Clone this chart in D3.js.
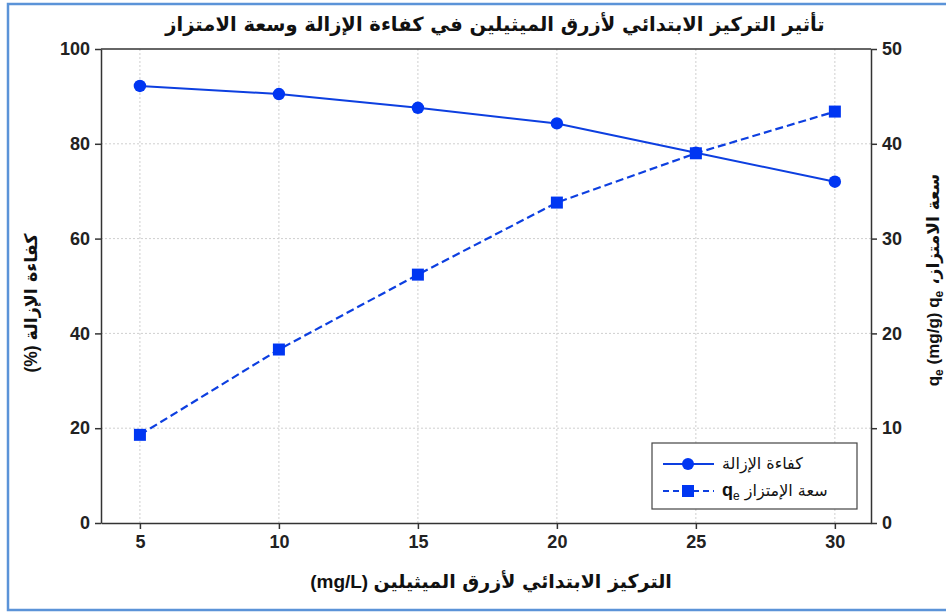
<!DOCTYPE html>
<html>
<head>
<meta charset="utf-8">
<script src="https://cdn.jsdelivr.net/npm/d3@7"></script>
<style>
  body { margin: 0; background: #fff; }
  #chart { width: 946px; height: 612px; }
</style>
</head>
<body>
<div id="chart"></div>
<script>
// data
const concentrations = [5, 10, 15, 20, 25, 30]
const removalEfficiency = [92.2, 90.5, 87.6, 84.3, 78.1, 72.0]   // %
const adsorptionCapacity = [9.3, 18.3, 26.2, 33.8, 39.0, 43.4]  // mg/g

const xTicks = [5, 10, 15, 20, 25, 30]
const leftTicks = [0, 20, 40, 60, 80, 100]
const rightTicks = [0, 10, 20, 30, 40, 50]

const titleText = "تأثير التركيز الابتدائي لأزرق الميثيلين في كفاءة الإزالة وسعة الامتزاز"
const xLabelAr = "التركيز الابتدائي لأزرق الميثيلين"
const leftLabelAr = "كفاءة الإزالة"
const rightLabelAr = "،سعة الامتزاز"
const legendLabels = ["كفاءة الإزالة", "سعة الإمتزاز"]

const blue = "#0d3fe0"
const markBlue = "#0036f2"
const arFont = "'DejaVu Sans', sans-serif"
const numFont = "'Liberation Sans', Arial, sans-serif"

const W = 946, H = 612
const margin = { top: 49, right: 75, bottom: 89, left: 101 }
const width = W - margin.left - margin.right
const height = H - margin.top - margin.bottom

const svg = d3.select("#chart").append("svg")
  .attr("width", W)
  .attr("height", H)

// outer blue frame (right side runs off the picture)
svg.append("rect")
  .attr("x", 8).attr("y", 4)
  .attr("width", 960).attr("height", 606)
  .attr("fill", "white")
  .attr("stroke", "#5b93d8")
  .attr("stroke-width", 2.5)

const g = svg.append("g").attr("transform", `translate(${margin.left},${margin.top})`)

// scales
const x = d3.scaleLinear().domain([3.6, 31.3]).range([0, width])
const yL = d3.scaleLinear().domain([0, 100]).range([height, 0])
const yR = d3.scaleLinear().domain([0, 50]).range([height, 0])

// grid
g.append("g").selectAll("line").data(xTicks).enter().append("line")
  .attr("x1", d => x(d)).attr("x2", d => x(d))
  .attr("y1", 0).attr("y2", height)
  .attr("stroke", "#cfcfcf").attr("stroke-dasharray", "2,2")
g.append("g").selectAll("line").data(leftTicks.slice(1, -1)).enter().append("line")
  .attr("x1", 0).attr("x2", width)
  .attr("y1", d => yL(d)).attr("y2", d => yL(d))
  .attr("stroke", "#cfcfcf").attr("stroke-dasharray", "2,2")

// axes
const styleAxis = (sel) => {
  sel.select(".domain").attr("stroke", "#333").attr("stroke-width", 1.5)
  sel.selectAll(".tick line").attr("stroke", "#333").attr("stroke-width", 1.5)
  sel.selectAll(".tick text")
    .style("font-family", numFont)
    .style("font-size", "18px")
    .style("font-weight", "bold")
    .attr("fill", "#222")
}

g.append("g")
  .attr("transform", `translate(0,${height})`)
  .call(d3.axisBottom(x).tickValues(xTicks).tickSize(6).tickPadding(6).tickSizeOuter(0))
  .call(styleAxis)

g.append("g")
  .call(d3.axisLeft(yL).tickValues(leftTicks).tickSize(6).tickPadding(5).tickSizeOuter(0))
  .call(styleAxis)

g.append("g")
  .attr("transform", `translate(${width},0)`)
  .call(d3.axisRight(yR).tickValues(rightTicks).tickSize(6).tickPadding(5).tickSizeOuter(0))
  .call(styleAxis)

// top spine
g.append("line")
  .attr("x1", 0).attr("x2", width).attr("y1", 0).attr("y2", 0)
  .attr("stroke", "#333").attr("stroke-width", 1.5)

// series: removal efficiency (left axis)
const effLine = d3.line().x((d, i) => x(concentrations[i])).y(d => yL(d))
g.append("path")
  .datum(removalEfficiency)
  .attr("d", effLine)
  .attr("fill", "none")
  .attr("stroke", blue)
  .attr("stroke-width", 2)

// series: adsorption capacity (right axis)
const capLine = d3.line().x((d, i) => x(concentrations[i])).y(d => yR(d))
g.append("path")
  .datum(adsorptionCapacity)
  .attr("d", capLine)
  .attr("fill", "none")
  .attr("stroke", blue)
  .attr("stroke-width", 2.2)
  .attr("stroke-dasharray", "8,4")

g.selectAll(".eff-dot")
  .data(removalEfficiency)
  .enter()
  .append("circle")
  .attr("class", "eff-dot")
  .attr("cx", (d, i) => x(concentrations[i]))
  .attr("cy", d => yL(d))
  .attr("r", 6.2)
  .attr("fill", markBlue)

const sq = 12
g.selectAll(".cap-dot")
  .data(adsorptionCapacity)
  .enter()
  .append("rect")
  .attr("class", "cap-dot")
  .attr("x", (d, i) => x(concentrations[i]) - sq / 2)
  .attr("y", d => yR(d) - sq / 2)
  .attr("width", sq).attr("height", sq)
  .attr("fill", markBlue)

// title
svg.append("text")
  .attr("x", 495).attr("y", 31)
  .attr("text-anchor", "middle")
  .style("font-family", arFont)
  .style("font-size", "19.5px")
  .style("font-weight", "bold")
  .attr("fill", "#111")
  .text(titleText)

// x label
const xl = svg.append("text")
  .attr("x", 491).attr("y", 588)
  .attr("text-anchor", "middle")
  .attr("direction", "ltr")
  .style("font-size", "19px")
  .style("font-weight", "bold")
  .attr("fill", "#111")
xl.append("tspan").style("font-family", numFont).text("(mg/L)  ")
xl.append("tspan").style("font-family", arFont).text(xLabelAr)

// left label
const ll = svg.append("text")
  .attr("transform", "translate(37,303) rotate(-90)")
  .attr("text-anchor", "middle")
  .attr("direction", "ltr")
  .style("font-size", "17.5px")
  .style("font-weight", "bold")
  .attr("fill", "#111")
ll.append("tspan").style("font-family", numFont).text("(%) ")
ll.append("tspan").style("font-family", arFont).text(leftLabelAr)

// right label
const rl = svg.append("text")
  .attr("transform", "translate(939,280) rotate(-90)")
  .attr("text-anchor", "middle")
  .attr("direction", "ltr")
  .style("font-size", "17px")
  .style("font-weight", "bold")
  .attr("fill", "#111")
rl.append("tspan").style("font-family", numFont).text("q")
rl.append("tspan").style("font-family", numFont).style("font-size", "12px").attr("dy", 4).text("e")
rl.append("tspan").style("font-family", numFont).attr("dy", -4).text(" (mg/g)  q")
rl.append("tspan").style("font-family", numFont).style("font-size", "12px").attr("dy", 4).text("e")
rl.append("tspan").style("font-family", arFont).attr("dy", -4).text(" " + rightLabelAr)

// legend
const lg = svg.append("g").attr("transform", "translate(652,443)")
lg.append("rect")
  .attr("width", 205).attr("height", 66)
  .attr("fill", "white")
  .attr("stroke", "#444").attr("stroke-width", 1.2)

const rows = [
  { y: 21, dash: null, marker: "circle", label: legendLabels[0] },
  { y: 48, dash: "6,4", marker: "square", label: legendLabels[1] }
]
rows.forEach(r => {
  lg.append("line")
    .attr("x1", 11).attr("x2", 62).attr("y1", r.y).attr("y2", r.y)
    .attr("stroke", blue).attr("stroke-width", 2)
    .attr("stroke-dasharray", r.dash)
  if (r.marker === "circle") {
    lg.append("circle").attr("cx", 36).attr("cy", r.y).attr("r", 6).attr("fill", markBlue)
  } else {
    lg.append("rect").attr("x", 30).attr("y", r.y - 6).attr("width", 12).attr("height", 12).attr("fill", markBlue)
  }
  const t = lg.append("text")
    .attr("x", 70).attr("y", r.y + 5)
    .attr("direction", "ltr")
    .style("font-size", "16px")
    .attr("fill", "#111")
  if (r.marker === "square") {
    t.append("tspan").style("font-family", numFont).style("font-weight", "bold").style("font-size", "18px").text("q")
    t.append("tspan").style("font-family", numFont).style("font-size", "12px").attr("dy", 4).text("e")
    t.append("tspan").style("font-family", arFont).attr("dy", -4).text(" " + r.label)
  } else {
    t.append("tspan").style("font-family", arFont).text(r.label)
  }
})
</script>
</body>
</html>
